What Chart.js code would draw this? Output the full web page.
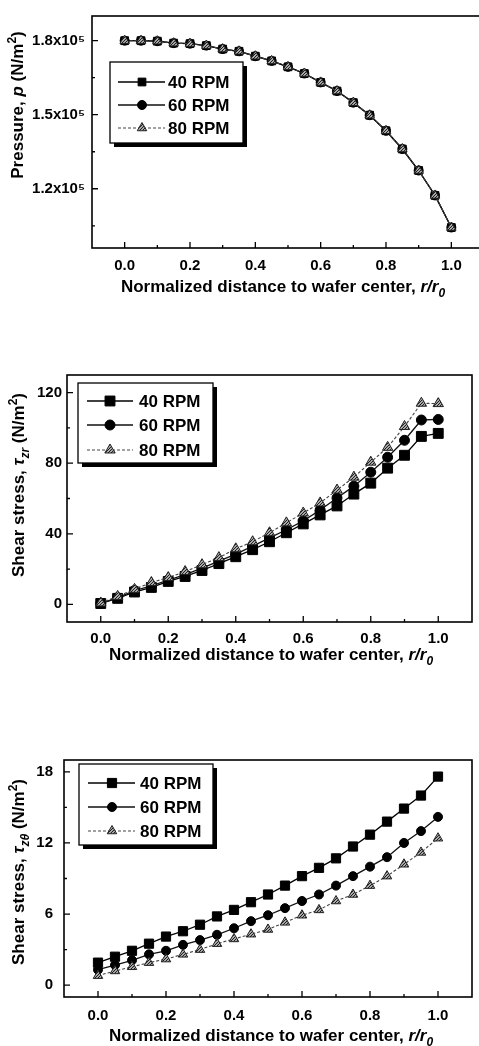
<!DOCTYPE html>
<html>
<head>
<meta charset="utf-8">
<script src="https://cdn.jsdelivr.net/npm/chart.js@4.4.1/dist/chart.umd.min.js"></script>
<style>
  html, body { margin: 0; padding: 0; background: #fff; overflow: hidden; }
  body { width: 479px; height: 1046px; position: relative; }
  .panel { position: absolute; left: 0; }
  canvas { display: block; }
</style>
</head>
<body>
<div class="panel" style="top:0"><canvas id="c1" width="490" height="300"></canvas></div>
<div class="panel" style="top:360px"><canvas id="c2" width="479" height="310"></canvas></div>
<div class="panel" style="top:740px"><canvas id="c3" width="479" height="306"></canvas></div>
<script>
const FONT = "'Liberation Sans', Arial, Helvetica, sans-serif";

// normalized radius r/r0
const R = [0, 0.05, 0.1, 0.15, 0.2, 0.25, 0.3, 0.35, 0.4, 0.45, 0.5,
           0.55, 0.6, 0.65, 0.7, 0.75, 0.8, 0.85, 0.9, 0.95, 1.0];
const LABELS = ['40 RPM', '60 RPM', '80 RPM'];

// pressure p (N/m^2), the three speeds lie on top of each other
const P_40 = [180000, 180000, 179800, 179000, 178800, 178000, 176600, 175700, 173700, 171800, 169400,
              166700, 163100, 159600, 154900, 149800, 143500, 136100, 127400, 117300, 104300];
const P_60 = [180000, 180000, 179800, 179000, 178800, 178000, 176600, 175700, 173700, 171800, 169400,
              166700, 163100, 159600, 154900, 149800, 143500, 136100, 127400, 117300, 104300];
const P_80 = [180000, 180000, 179800, 179000, 178800, 178000, 176600, 175700, 173700, 171800, 169400,
              166700, 163100, 159600, 154900, 149800, 143500, 136100, 127400, 117300, 104300];

// shear stress tau_zr (N/m^2)
const TZR_40 = [0.5, 3.4, 7.0, 9.6, 13.0, 15.8, 19.2, 23.1, 27.0, 31.0, 35.5,
                40.6, 45.6, 50.7, 55.8, 62.5, 68.7, 77.2, 84.5, 95.2, 96.9];
const TZR_60 = [0.5, 3.8, 7.8, 10.5, 13.8, 16.8, 20.5, 24.5, 28.5, 33.0, 37.7,
                42.3, 47.3, 53.5, 60.3, 67.0, 74.9, 83.4, 93.0, 104.5, 104.8];
const TZR_80 = [0.8, 4.5, 8.5, 12.4, 15.2, 18.6, 22.5, 26.5, 31.5, 35.5, 40.6,
                46.2, 51.8, 57.5, 64.8, 72.1, 80.6, 89.0, 100.8, 114.0, 113.8];

// shear stress tau_z-theta (N/m^2)
const TZT_40 = [1.9, 2.4, 2.9, 3.5, 4.1, 4.55, 5.1, 5.8, 6.35, 7.0, 7.65,
                8.4, 9.2, 9.9, 10.7, 11.7, 12.7, 13.8, 14.9, 16.0, 17.6];
const TZT_60 = [1.3, 1.7, 2.1, 2.6, 2.9, 3.4, 3.8, 4.25, 4.8, 5.4, 5.9,
                6.5, 7.1, 7.65, 8.4, 9.2, 10.0, 10.8, 12.0, 13.0, 14.2];
const TZT_80 = [0.8, 1.2, 1.55, 1.9, 2.2, 2.6, 3.0, 3.5, 3.9, 4.3, 4.7,
                5.3, 5.9, 6.35, 7.1, 7.65, 8.4, 9.2, 10.2, 11.2, 12.4];

const X_TICKS = [0, 0.2, 0.4, 0.6, 0.8, 1.0];
const X_MINOR = [0.1, 0.3, 0.5, 0.7, 0.9];
const Y1_TICKS = [120000, 150000, 180000];
const Y1_MINOR = [105000, 135000, 165000];
const Y2_TICKS = [0, 40, 80, 120];
const Y2_MINOR = [20, 60, 100];
const Y3_TICKS = [0, 6, 12, 18];
const Y3_MINOR = [3, 9, 15];

function hatch(ctx) {
    const c = document.createElement('canvas');
    c.width = 3; c.height = 3;
    const g = c.getContext('2d');
    g.fillStyle = '#a8a8a8';
    g.fillRect(0, 0, 3, 3);
    g.fillStyle = '#1e1e1e';
    for (let i = 0; i < 3; i++) g.fillRect(i, 2 - i, 1, 1);
    return ctx.createPattern(c, 'repeat');
}

// text made of runs: {t, it, sup, sub}
function drawRich(ctx, runs, x, y, size, rotate) {
    const fontOf = r => (r.it ? 'italic ' : '') + 'bold ' +
        (r.sup || r.sub ? Math.round(size * 0.68) : size) + 'px ' + FONT;
    ctx.save();
    ctx.translate(x, y);
    if (rotate) ctx.rotate(-Math.PI / 2);
    let w = 0;
    runs.forEach(r => { ctx.font = fontOf(r); w += ctx.measureText(r.t).width; });
    let cx = -w / 2;
    ctx.fillStyle = '#000';
    ctx.textAlign = 'left';
    ctx.textBaseline = 'alphabetic';
    runs.forEach(r => {
        ctx.font = fontOf(r);
        const dy = r.sup ? -size * 0.42 : r.sub ? size * 0.28 : 0;
        ctx.fillText(r.t, cx, size * 0.36 + dy);
        cx += ctx.measureText(r.t).width;
    });
    ctx.restore();
}

const framePlugin = {
    id: 'frame',
    afterDraw(chart, args, o) {
        const ctx = chart.ctx;
        const a = chart.chartArea;
        const xs = chart.scales.x, ys = chart.scales.y;
        ctx.save();
        ctx.strokeStyle = '#000';
        ctx.lineWidth = 1.6;
        ctx.strokeRect(a.left, a.top, a.right - a.left, a.bottom - a.top);
        ctx.lineWidth = 1.3;
        ctx.beginPath();
        xs.ticks.forEach(t => {
            const px = xs.getPixelForValue(t.value);
            ctx.moveTo(px, a.bottom); ctx.lineTo(px, a.bottom - 6);
        });
        o.xMinor.forEach(v => {
            const px = xs.getPixelForValue(v);
            ctx.moveTo(px, a.bottom); ctx.lineTo(px, a.bottom - 3);
        });
        ys.ticks.forEach(t => {
            const py = ys.getPixelForValue(t.value);
            ctx.moveTo(a.left, py); ctx.lineTo(a.left + 6, py);
        });
        o.yMinor.forEach(v => {
            const py = ys.getPixelForValue(v);
            ctx.moveTo(a.left, py); ctx.lineTo(a.left + 3, py);
        });
        ctx.stroke();

        drawRich(ctx, o.xTitle, o.xTitlePos[0], o.xTitlePos[1], 17, false);
        drawRich(ctx, o.yTitle, o.yTitlePos[0], o.yTitlePos[1], 17, true);

        // legend box with drop shadow
        const L = o.legend;
        ctx.fillStyle = '#000';
        ctx.fillRect(L.box[0] + 4, L.box[1] + 4, L.box[2], L.box[3]);
        ctx.fillStyle = '#fff';
        ctx.fillRect(L.box[0], L.box[1], L.box[2], L.box[3]);
        ctx.lineWidth = 1.3;
        ctx.strokeRect(L.box[0], L.box[1], L.box[2], L.box[3]);
        chart.data.datasets.forEach((ds, i) => {
            const y = L.rows[i];
            ctx.save();
            ctx.strokeStyle = ds.borderColor;
            ctx.lineWidth = ds.borderWidth;
            ctx.setLineDash(ds.borderDash || []);
            ctx.beginPath();
            ctx.moveTo(L.line[0], y); ctx.lineTo(L.line[1], y);
            ctx.stroke();
            ctx.setLineDash([]);
            ctx.fillStyle = ds.pointBackgroundColor;
            ctx.strokeStyle = ds.pointBorderColor;
            ctx.lineWidth = 1;
            Chart.helpers.drawPoint(ctx, { pointStyle: ds.pointStyle, radius: ds.pointRadius, rotation: 0, borderWidth: 1 }, L.mark, y);
            ctx.restore();
            ctx.fillStyle = '#000';
            ctx.font = 'bold 17px ' + FONT;
            ctx.textAlign = 'left';
            ctx.textBaseline = 'middle';
            ctx.fillText(ds.label, L.text, y + 1);
        });
        ctx.restore();
    }
};

function series(ctx, values, radii) {
    const pat = hatch(ctx);
    const styles = [
        { pointStyle: 'rect', borderColor: '#000', borderWidth: 1.3, borderDash: [], pointBackgroundColor: '#000', pointBorderColor: '#000', order: 2 },
        { pointStyle: 'circle', borderColor: '#111', borderWidth: 1.3, borderDash: [], pointBackgroundColor: '#000', pointBorderColor: '#000', order: 1 },
        { pointStyle: 'triangle', borderColor: '#444', borderWidth: 1.1, borderDash: [3, 2], pointBackgroundColor: pat, pointBorderColor: '#222', order: 0 }
    ];
    return values.map((vals, i) => ({
        label: LABELS[i],
        data: R.map((r, j) => ({ x: r, y: vals[j] })),
        ...styles[i],
        pointRadius: radii[i],
        pointBorderWidth: 1,
        showLine: true,
        tension: 0
    }));
}

function makeChart(id, cfg) {
    const canvas = document.getElementById(id);
    const ctx = canvas.getContext('2d');
    const tickFont = { family: FONT, size: 15, weight: 'bold' };
    return new Chart(canvas, {
        type: 'scatter',
        data: { datasets: series(ctx, cfg.values, cfg.radii) },
        options: {
            responsive: false,
            animation: false,
            layout: { autoPadding: false, padding: { left: 0, top: cfg.padTop, right: cfg.padRight, bottom: 0 } },
            scales: {
                x: {
                    type: 'linear', min: -0.1, max: 1.1,
                    afterBuildTicks: s => { s.ticks = X_TICKS.map(v => ({ value: v })); },
                    afterFit: s => { s.height = cfg.xHeight; },
                    grid: { display: false, drawTicks: false },
                    border: { display: false },
                    ticks: { color: '#000', font: tickFont, padding: cfg.xPad, autoSkip: false, maxRotation: 0, callback: v => v.toFixed(1) }
                },
                y: {
                    type: 'linear', min: cfg.yMin, max: cfg.yMax,
                    afterBuildTicks: s => { s.ticks = cfg.yTicks.map(v => ({ value: v })); },
                    afterFit: s => { s.width = cfg.yWidth; },
                    grid: { display: false, drawTicks: false },
                    border: { display: false },
                    ticks: { color: '#000', font: tickFont, padding: cfg.yPad, autoSkip: false, callback: cfg.yFmt }
                }
            },
            plugins: {
                legend: { display: false },
                tooltip: { enabled: false },
                frame: {
                    xMinor: X_MINOR, yMinor: cfg.yMinor,
                    xTitle: [{ t: 'Normalized distance to wafer center, ' }, { t: 'r/r', it: true }, { t: '0', it: true, sub: true }],
                    xTitlePos: cfg.xTitlePos, yTitle: cfg.yTitle, yTitlePos: cfg.yTitlePos,
                    legend: cfg.legend
                }
            }
        },
        plugins: [framePlugin]
    });
}

makeChart('c1', {
    values: [P_40, P_60, P_80], radii: [5.5, 4.5, 5.5],
    padTop: 7, padRight: 6, xHeight: 52, yWidth: 92, xPad: 9, yPad: 7,
    yMin: 96000, yMax: 190000, yTicks: Y1_TICKS, yMinor: Y1_MINOR,
    yFmt: v => (v / 100000).toFixed(1) + 'x10\u2075',
    xTitlePos: [283, 286],
    yTitle: [{ t: 'Pressure, ' }, { t: 'p', it: true }, { t: ' (N/m' }, { t: '2', sup: true }, { t: ')' }],
    yTitlePos: [17, 105],
    legend: { box: [110, 62, 133, 81], rows: [82, 105, 128], line: [118, 165], mark: 142, text: 168 }
});

makeChart('c2', {
    values: [TZR_40, TZR_60, TZR_80], radii: [7, 5, 6],
    padTop: 15, padRight: 7, xHeight: 48, yWidth: 67, xPad: 8, yPad: 5,
    yMin: -10, yMax: 130, yTicks: Y2_TICKS, yMinor: Y2_MINOR,
    yFmt: v => String(v),
    xTitlePos: [271, 294],
    yTitle: [{ t: 'Shear stress, ' }, { t: '\u03c4', it: true }, { t: 'zr', it: true, sub: true }, { t: ' (N/m' }, { t: '2', sup: true }, { t: ')' }],
    yTitlePos: [18, 125],
    legend: { box: [78, 23, 135, 80], rows: [41, 65, 90], line: [87, 133], mark: 110, text: 139 }
});

makeChart('c3', {
    values: [TZT_40, TZT_60, TZT_80], radii: [6.5, 4.5, 5.5],
    padTop: 12, padRight: 7, xHeight: 49, yWidth: 64, xPad: 10, yPad: 11,
    yMin: -1, yMax: 19, yTicks: Y3_TICKS, yMinor: Y3_MINOR,
    yFmt: v => String(v),
    xTitlePos: [271, 295],
    yTitle: [{ t: 'Shear stress, ' }, { t: '\u03c4', it: true }, { t: 'z\u03b8', it: true, sub: true }, { t: ' (N/m' }, { t: '2', sup: true }, { t: ')' }],
    yTitlePos: [18, 132],
    legend: { box: [79, 24, 134, 81], rows: [43, 67, 91], line: [88, 135], mark: 112, text: 140 }
});
</script>
</body>
</html>
